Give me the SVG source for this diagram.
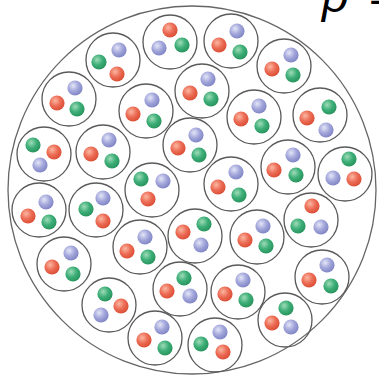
<svg xmlns="http://www.w3.org/2000/svg" width="379" height="375" viewBox="0 0 379 375">
  <defs>
    <radialGradient id="gr" cx="0.38" cy="0.35" r="0.65">
      <stop offset="0" stop-color="#fbb7a2"/>
      <stop offset="0.55" stop-color="#ec6c55"/>
      <stop offset="1" stop-color="#dc4f37"/>
    </radialGradient>
    <radialGradient id="gg" cx="0.38" cy="0.35" r="0.65">
      <stop offset="0" stop-color="#9fdcb8"/>
      <stop offset="0.55" stop-color="#3dae77"/>
      <stop offset="1" stop-color="#2a955f"/>
    </radialGradient>
    <radialGradient id="gb" cx="0.38" cy="0.35" r="0.65">
      <stop offset="0" stop-color="#e4e6f7"/>
      <stop offset="0.55" stop-color="#a2a6da"/>
      <stop offset="1" stop-color="#8287c6"/>
    </radialGradient>
  </defs>
  <style>
    .nucleus { fill: #ffffff; stroke: #666666; stroke-width: 1.3; }
    .bag { fill: none; stroke: #5a5a5a; stroke-width: 1.3; }
    .r { fill: url(#gr); }
    .g { fill: url(#gg); }
    .b { fill: url(#gb); }
    .q circle.r, .q circle.g, .q circle.b { r: 7.6px; }
    .sym { font-family: "Liberation Sans", "DejaVu Sans", sans-serif; font-size: 46px; fill: #000000; }
  </style>

  <!-- outer boundary -->
  <circle class="nucleus" cx="192" cy="190" r="184"/>

  <!-- three-quark clusters -->
  <g class="q">
    <g id="n01"><circle class="bag" cx="170" cy="42" r="27"/><circle class="r" cx="170" cy="30"/><circle class="b" cx="159" cy="48"/><circle class="g" cx="182" cy="45"/></g>
    <g id="n02"><circle class="bag" cx="231" cy="41" r="27"/><circle class="b" cx="237" cy="31"/><circle class="r" cx="219" cy="45"/><circle class="g" cx="240" cy="52"/></g>
    <g id="n03"><circle class="bag" cx="113" cy="60" r="27"/><circle class="b" cx="119" cy="50"/><circle class="g" cx="99" cy="62"/><circle class="r" cx="117" cy="74"/></g>
    <g id="n04"><circle class="bag" cx="284" cy="66" r="27"/><circle class="b" cx="291" cy="55"/><circle class="r" cx="272" cy="69"/><circle class="g" cx="293" cy="75"/></g>
    <g id="n05"><circle class="bag" cx="69" cy="99" r="27"/><circle class="b" cx="75" cy="88"/><circle class="r" cx="57" cy="103"/><circle class="g" cx="77" cy="109"/></g>
    <g id="n06"><circle class="bag" cx="146" cy="111" r="27"/><circle class="b" cx="152" cy="100"/><circle class="r" cx="133" cy="114"/><circle class="g" cx="154" cy="121"/></g>
    <g id="n07"><circle class="bag" cx="202" cy="91" r="27"/><circle class="b" cx="208" cy="79"/><circle class="r" cx="190" cy="93"/><circle class="g" cx="211" cy="99"/></g>
    <g id="n08"><circle class="bag" cx="254" cy="117" r="27"/><circle class="b" cx="259" cy="106"/><circle class="r" cx="241" cy="119"/><circle class="g" cx="262" cy="126"/></g>
    <g id="n09"><circle class="bag" cx="320" cy="115" r="27"/><circle class="g" cx="329" cy="107"/><circle class="r" cx="307" cy="118"/><circle class="b" cx="326" cy="130"/></g>
    <g id="n10"><circle class="bag" cx="44" cy="154" r="27"/><circle class="g" cx="33" cy="145"/><circle class="r" cx="54" cy="152"/><circle class="b" cx="40" cy="165"/></g>
    <g id="n11"><circle class="bag" cx="103" cy="152" r="27"/><circle class="b" cx="109" cy="140"/><circle class="r" cx="91" cy="154"/><circle class="g" cx="112" cy="161"/></g>
    <g id="n12"><circle class="bag" cx="190" cy="145" r="27"/><circle class="b" cx="196" cy="135"/><circle class="r" cx="178" cy="148"/><circle class="g" cx="199" cy="155"/></g>
    <g id="n13"><circle class="bag" cx="288" cy="167" r="27"/><circle class="b" cx="293" cy="155"/><circle class="r" cx="274" cy="170"/><circle class="g" cx="296" cy="175"/></g>
    <g id="n14"><circle class="bag" cx="345" cy="174" r="27"/><circle class="g" cx="349" cy="159"/><circle class="b" cx="333" cy="178"/><circle class="r" cx="354" cy="179"/></g>
    <g id="n15"><circle class="bag" cx="152" cy="190" r="27"/><circle class="g" cx="141" cy="179"/><circle class="b" cx="163" cy="181"/><circle class="r" cx="148" cy="199"/></g>
    <g id="n16"><circle class="bag" cx="231" cy="184" r="27"/><circle class="b" cx="236" cy="172"/><circle class="r" cx="218" cy="187"/><circle class="g" cx="239" cy="195"/></g>
    <g id="n17"><circle class="bag" cx="39" cy="210" r="27"/><circle class="b" cx="46" cy="202"/><circle class="r" cx="28" cy="216"/><circle class="g" cx="49" cy="222"/></g>
    <g id="n18"><circle class="bag" cx="96" cy="210" r="27"/><circle class="b" cx="103" cy="198"/><circle class="g" cx="86" cy="209"/><circle class="r" cx="103" cy="221"/></g>
    <g id="n19"><circle class="bag" cx="311" cy="220" r="27"/><circle class="r" cx="312" cy="206"/><circle class="g" cx="298" cy="226"/><circle class="b" cx="321" cy="227"/></g>
    <g id="n20"><circle class="bag" cx="64" cy="264" r="27"/><circle class="b" cx="71" cy="253"/><circle class="r" cx="52" cy="267"/><circle class="g" cx="73" cy="274"/></g>
    <g id="n21"><circle class="bag" cx="140" cy="247" r="27"/><circle class="b" cx="145" cy="237"/><circle class="r" cx="127" cy="251"/><circle class="g" cx="148" cy="257"/></g>
    <g id="n22"><circle class="bag" cx="195" cy="236" r="27"/><circle class="g" cx="204" cy="224"/><circle class="r" cx="183" cy="232"/><circle class="b" cx="201" cy="245"/></g>
    <g id="n23"><circle class="bag" cx="257" cy="237" r="27"/><circle class="b" cx="263" cy="226"/><circle class="r" cx="245" cy="240"/><circle class="g" cx="266" cy="246"/></g>
    <g id="n24"><circle class="bag" cx="322" cy="277" r="27"/><circle class="b" cx="327" cy="265"/><circle class="r" cx="309" cy="280"/><circle class="g" cx="331" cy="286"/></g>
    <g id="n25"><circle class="bag" cx="109" cy="305" r="27"/><circle class="g" cx="105" cy="294"/><circle class="r" cx="121" cy="306"/><circle class="b" cx="101" cy="315"/></g>
    <g id="n26"><circle class="bag" cx="180" cy="289" r="27"/><circle class="g" cx="184" cy="278"/><circle class="r" cx="167" cy="291"/><circle class="b" cx="190" cy="296"/></g>
    <g id="n27"><circle class="bag" cx="238" cy="292" r="27"/><circle class="b" cx="243" cy="280"/><circle class="r" cx="225" cy="294"/><circle class="g" cx="246" cy="300"/></g>
    <g id="n28"><circle class="bag" cx="285" cy="320" r="27"/><circle class="g" cx="286" cy="308"/><circle class="r" cx="272" cy="323"/><circle class="b" cx="291" cy="327"/></g>
    <g id="n29"><circle class="bag" cx="155" cy="338" r="27"/><circle class="b" cx="162" cy="327"/><circle class="r" cx="144" cy="340"/><circle class="g" cx="165" cy="348"/></g>
    <g id="n30"><circle class="bag" cx="215" cy="345" r="27"/><circle class="b" cx="220" cy="332"/><circle class="g" cx="201" cy="344"/><circle class="r" cx="223" cy="352"/></g>
  </g>

  <!-- density label, running off the top edge -->
  <text class="sym" x="322" y="12"><tspan font-style="italic">ρ</tspan><tspan x="369">=</tspan></text>
</svg>
